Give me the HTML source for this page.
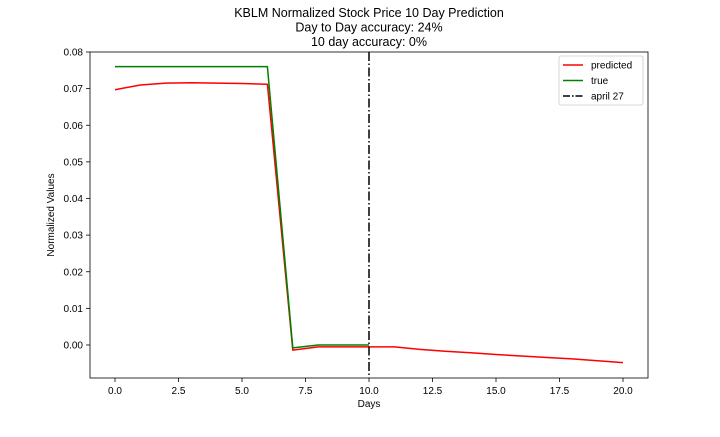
<!DOCTYPE html>
<html><head><meta charset="utf-8"><style>
body{margin:0;background:#fff;}
svg{font-family:"Liberation Sans","DejaVu Sans",sans-serif;}
</style></head><body>
<svg id="c" width="720" height="432" xmlns="http://www.w3.org/2000/svg"></svg>
<script>
const days = [0,1,2,3,4,5,6,7,8,9,10,11,12,13,14,15,16,17,18,19,20];
const predicted = [0.0697,0.0710,0.0715,0.0716,0.0715,0.0714,0.0712,-0.0014,-0.0005,-0.0005,-0.0005,-0.0005,-0.0012,-0.0017,-0.0021,-0.0026,-0.0030,-0.0034,-0.0038,-0.0043,-0.0048];
const trueDays = [0,1,2,3,4,5,6,7,8,9,10];
const trueVals = [0.076,0.076,0.076,0.076,0.076,0.076,0.076,-0.0008,0,0,0];
const markerDay = 10;
const xTicks = [0,2.5,5,7.5,10,12.5,15,17.5,20];
const xTickLabels = ["0.0","2.5","5.0","7.5","10.0","12.5","15.0","17.5","20.0"];
const yTicks = [0,0.01,0.02,0.03,0.04,0.05,0.06,0.07,0.08];
const yTickLabels = ["0.00","0.01","0.02","0.03","0.04","0.05","0.06","0.07","0.08"];

const L=90,R=648,T=52,B=378;
const X=v=>115+v*(623-115)/20;
const Y=v=>345-v*(345-52)/0.08;
const svg=document.getElementById('c');
const NS='http://www.w3.org/2000/svg';
function mk(tag,attrs,parent){const e=document.createElementNS(NS,tag);for(const k in attrs)e.setAttribute(k,attrs[k]);(parent||svg).appendChild(e);return e;}
function txt(s,attrs,name){const e=mk('text',attrs);e.textContent=s;return e;}

const titles=["KBLM Normalized Stock Price 10 Day Prediction","Day to Day accuracy: 24%","10 day accuracy: 0%"];
titles.forEach((t,i)=>txt(t,{x:369,y:17+i*14.5,'text-anchor':'middle','font-size':12.5,fill:'#000'},'chart-title-line'));

xTicks.forEach((v,i)=>{
  const t=mk('line',{x1:X(v),x2:X(v),y1:B,y2:B+4,stroke:'#000','stroke-width':0.8});
  
  
  txt(xTickLabels[i],{x:X(v),y:B+16,'text-anchor':'middle','font-size':10},'x-tick-label');
});
yTicks.forEach((v,i)=>{
  const t=mk('line',{x1:L-4,x2:L,y1:Y(v),y2:Y(v),stroke:'#000','stroke-width':0.8});
  
  
  txt(yTickLabels[i],{x:L-7,y:Y(v)+3.5,'text-anchor':'end','font-size':10},'y-tick-label');
});
txt("Days",{x:369,y:407,'text-anchor':'middle','font-size':10},'x-axis-title');
txt("Normalized Values",{x:0,y:0,'text-anchor':'middle','font-size':10,transform:'translate(54,215) rotate(-90)'},'y-axis-title');

function poly(xs,ys,color,name){
  const p=mk('polyline',{points:xs.map((d,i)=>X(d)+','+Y(ys[i])).join(' '),fill:'none',stroke:color,'stroke-width':1.5,'stroke-linejoin':'round'});
  
  
}
poly(days,predicted,'#ff0000','predicted-line');
poly(trueDays,trueVals,'#008000','true-line');
const vl=mk('line',{x1:X(markerDay),x2:X(markerDay),y1:T,y2:B,stroke:'#000','stroke-width':1.5,'stroke-dasharray':'9,2.5,1.5,2.5'});



const fr=mk('rect',{x:L,y:T,width:R-L,height:B-T,fill:'none',stroke:'#000','stroke-width':0.8});



const g=mk('g',{});


mk('rect',{x:559,y:56,width:84,height:49,rx:2,fill:'#fff',stroke:'#ccc','stroke-width':0.8},g);
const items=[["predicted","#ff0000",""],["true","#008000",""],["april 27","#000","7,2,1.5,2"]];
items.forEach((it,i)=>{
  const yy=65+i*15.5;
  const ln=mk('line',{x1:563,x2:583,y1:yy,y2:yy,stroke:it[1],'stroke-width':1.5,'stroke-dasharray':it[2]||'none'},g);
  
  
  const t=mk('text',{x:591,y:yy+3.5,'font-size':10,fill:'#000'},g);
  t.textContent=it[0];
  
  
});
</script>
</body></html>
